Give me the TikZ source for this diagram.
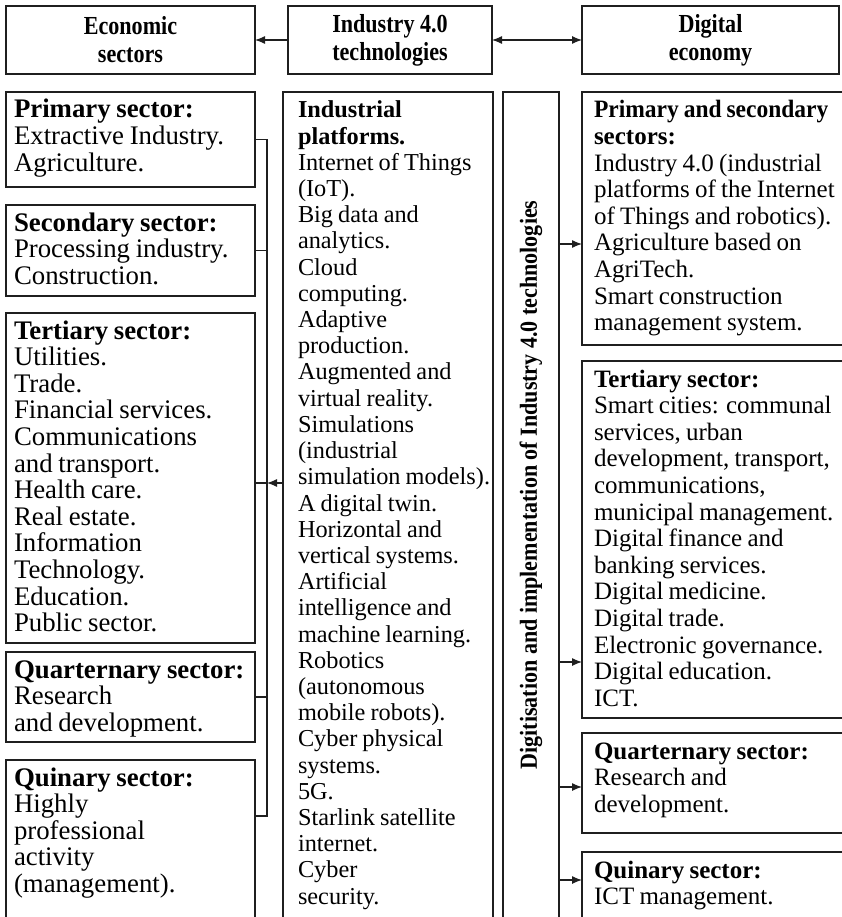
\documentclass[tikz,border=0pt]{standalone}
\usepackage{fontspec}
\usepackage{graphicx}
\setmainfont{Liberation Serif}
% narrow, tall bold faces for the headings and the vertical band
\newfontfamily\headfont[FakeStretch=0.85]{Liberation Serif}
\newfontfamily\bandfont[FakeStretch=0.9]{Liberation Serif}
\usetikzlibrary{arrows.meta}
% body text: given size and line pitch, with tight word spacing
\newcommand\colfont[2]{\fontsize{#1}{#2}\selectfont\spaceskip=0.21em plus 0.05em\relax}
\begin{document}
\begin{tikzpicture}[x=1pt,y=-1pt,
  frame/.style={draw=black!88, line width=1.2pt, rectangle, inner sep=0pt,
                outer sep=0pt, anchor=north west},
  head/.style={font=\headfont\fontsize{26}{28}\selectfont\bfseries, align=center},
  txt/.style={inner sep=0pt, outer sep=0pt, anchor=base west},
  link/.style={draw=black!88, line width=1.2pt},
  arr/.style={link, -{Latex[length=10pt,width=8pt]}},
]
\useasboundingbox (0,0) rectangle (841,917);

% ---- header row ----
\node[frame, head, minimum width=249, minimum height=68] (econ) at (6,6) {Economic\\sectors};
\node[frame, head, minimum width=204, minimum height=68] (ind) at (288,6) {Industry 4.0\\technologies};
\node[frame, head, minimum width=257, minimum height=68] (dig) at (582,6) {Digital\\economy};
\draw[arr] (ind.west) -- (econ.east);
\draw[link, {Latex[length=10pt,width=8pt]}-{Latex[length=10pt,width=8pt]}] (ind.east) -- (dig.west);

% ---- left column: economic sectors ----
\node[frame, minimum width=249, minimum height=95] (prim) at (6,92) {};
\node[frame, minimum width=249, minimum height=91] (sec) at (6,205) {};
\node[frame, minimum width=249, minimum height=330] (ter) at (6,313) {};
\node[frame, minimum width=249, minimum height=90] (quat) at (6,652) {};
\node[frame, minimum width=249, minimum height=170] (quin) at (6,760) {};

\node[txt] (primT) at (14,118) {\parbox[t]{400pt}{\colfont{26.8}{26.6}%
  \textbf{Primary sector:}\\Extractive Industry.\\Agriculture.}};
\node[txt] (secT) at (14,231) {\parbox[t]{400pt}{\colfont{26.8}{26.6}%
  \textbf{Secondary sector:}\\Processing industry.\\Construction.}};
\node[txt] (terT) at (14,339) {\parbox[t]{400pt}{\colfont{26.8}{26.6}%
  \textbf{Tertiary sector:}\\Utilities.\\Trade.\\Financial services.\\Communications\\and transport.\\Health care.\\Real estate.\\Information\\Technology.\\Education.\\Public sector.}};
\node[txt] (quatT) at (14,678) {\parbox[t]{400pt}{\colfont{26.8}{26.6}%
  \textbf{Quarternary sector:}\\Research\\and development.}};
\node[txt] (quinT) at (14,786) {\parbox[t]{400pt}{\colfont{26.8}{26.6}%
  \textbf{Quinary sector:}\\Highly\\professional\\activity\\(management).}};

% bracket joining the sector boxes
\coordinate (bx) at (267,0);
\coordinate (quinJ) at (255,816);
\draw[link] (prim.east) -- (prim.east -| bx) -- (quinJ -| bx) -- (quinJ);
\draw[link] (sec.east) -- (sec.east -| bx);
\draw[link] (quat.east) -- (quat.east -| bx);

% ---- middle column: technologies ----
\node[frame, minimum width=210, minimum height=840] (tech) at (283,92) {};
\node[txt] (techT) at (298,118) {\parbox[t]{400pt}{\colfont{24.3}{26.2}%
  \textbf{Industrial}\\\textbf{platforms.}\\Internet of Things\\(IoT).\\Big data and\\analytics.\\Cloud\\computing.\\Adaptive\\production.\\Augmented and\\virtual reality.\\Simulations\\(industrial\\simulation models).\\A digital twin.\\Horizontal and\\vertical systems.\\Artificial\\intelligence and\\machine learning.\\Robotics\\(autonomous\\mobile robots).\\Cyber physical\\systems.\\5G.\\Starlink satellite\\internet.\\Cyber\\security.}};

\coordinate (terA) at (283,483);
\draw[arr] (terA) -- (terA -| bx);
\draw[link] (terA -| bx) -- (terA -| ter.east);

% ---- vertical band ----
\node[frame, minimum width=56, minimum height=840] (band) at (503,92) {};
\node[rotate=90, font=\bandfont\fontsize{24.5}{27}\selectfont\bfseries, inner sep=0pt] (bandT) at (531,485)
  {Digitisation and implementation of Industry 4.0 technologies};

% ---- right column: digital economy ----
\node[frame, minimum width=265, minimum height=253] (dps) at (582,92) {};
\node[frame, minimum width=265, minimum height=357] (dter) at (582,361) {};
\node[frame, minimum width=265, minimum height=100] (dquat) at (582,733) {};
\node[frame, minimum width=265, minimum height=80] (dquin) at (582,852) {};

\node[txt] (dpsT) at (594,118) {\parbox[t]{400pt}{\colfont{25}{26.6}%
  \scalebox{0.94}[1]{\textbf{Primary and secondary}}\\\textbf{sectors:}\\Industry 4.0 (industrial\\platforms of the Internet\\of Things and robotics).\\Agriculture based on\\AgriTech.\\Smart construction\\management system.}};
\node[txt] (dterT) at (594,387) {\parbox[t]{400pt}{\colfont{25}{26.6}%
  \textbf{Tertiary sector:}\\Smart cities: communal\\services, urban\\development, transport,\\communications,\\municipal management.\\Digital finance and\\banking services.\\Digital medicine.\\Digital trade.\\Electronic governance.\\Digital education.\\ICT.}};
\node[txt] (dquatT) at (594,759) {\parbox[t]{400pt}{\colfont{25}{26.6}%
  \textbf{Quarternary sector:}\\Research and\\development.}};
\node[txt] (dquinT) at (594,878) {\parbox[t]{400pt}{\colfont{25}{26.6}%
  \textbf{Quinary sector:}\\ICT management.}};

\coordinate (a1) at (0,244);
\coordinate (a2) at (0,662);
\coordinate (a3) at (0,787);
\coordinate (a4) at (0,880);
\draw[arr] (a1 -| band.east) -- (a1 -| dps.west);
\draw[arr] (a2 -| band.east) -- (a2 -| dter.west);
\draw[arr] (a3 -| band.east) -- (a3 -| dquat.west);
\draw[arr] (a4 -| band.east) -- (a4 -| dquin.west);
\end{tikzpicture}
\end{document}
